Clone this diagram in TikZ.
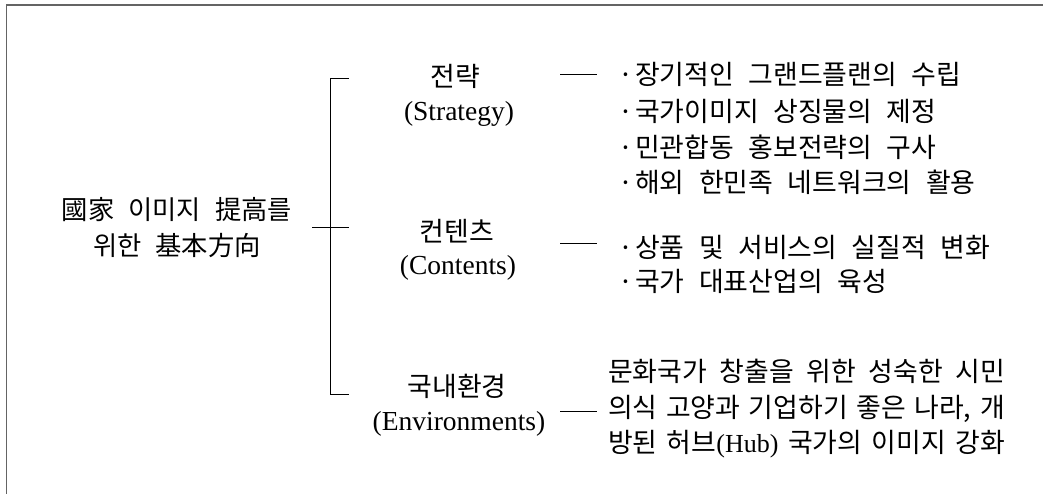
\documentclass[tikz,border=0pt]{standalone}
\usepackage{fontspec}
\setmainfont{Liberation Serif}
\newfontfamily\krfont[WordSpace=2.4]{Noto Sans CJK KR}
\newfontfamily\krfontp[WordSpace=1.2,Scale=0.9999]{Noto Sans CJK KR}
\begin{document}
\begin{tikzpicture}[x=1pt,y=-1pt,
  krtext/.style={font=\krfont\fontsize{26.9}{36}\selectfont, inner sep=0pt, anchor=base},
  titletext/.style={font=\krfont\fontsize{26.3}{36}\selectfont, inner sep=0pt, anchor=base},
  paratext/.style={font=\krfontp\fontsize{26.9}{36}\selectfont, inner sep=0pt, anchor=base},
  lattext/.style={font=\fontsize{27.5}{36}\selectfont, inner sep=0pt, anchor=base},
  bullet/.style={krtext, anchor=base west},
  link/.style={draw=black, line width=0.9pt},
  frame/.style={draw={rgb,255:red,100;green,100;blue,100}, line width=1.6pt}]
\useasboundingbox (0,0) rectangle (1043,494);
\coordinate (fb) at (6.5,494);
\coordinate (fc) at (6.5,5);
\coordinate (fr) at (1043,5);
\draw[frame] (fb) -- (fc) -- (fr);

% title
\node[titletext] (t1) at (177,219.5) {國家 이미지 提高를};
\node[titletext] (t2) at (177,255.5) {위한 基本方向};

% bracket
\coordinate (btop) at (349,78);
\coordinate (bbot) at (349,394);
\coordinate (bmidL) at (312,227);
\coordinate (bmidR) at (349,227);
\draw[link] (btop) -- ++(-19,0) |- (bbot);
\draw[link] (bmidL) -- (bmidR);

% headers
\node[krtext] (s1k) at (455,86.5) {전략};
\node[lattext] (s1e) at (459,121) {(Strategy)};
\node[krtext] (s2k) at (457,241.5) {컨텐츠};
\node[lattext] (s2e) at (458,274) {(Contents)};
\node[krtext] (s3k) at (457,396.5) {국내환경};
\node[lattext] (s3e) at (459,430) {(Environments)};

% connectors
\coordinate (c1a) at (560,74); \coordinate (c1b) at (597,74);
\coordinate (c2a) at (560,243); \coordinate (c2b) at (597,243);
\coordinate (c3a) at (560,411); \coordinate (c3b) at (597,411);
\draw[link] (c1a) -- (c1b);
\draw[link] (c2a) -- (c2b);
\draw[link] (c3a) -- (c3b);

% bullets
\node[bullet] (b1) at (616,84.5) {\makebox[19pt][c]{·}장기적인 그랜드플랜의 수립};
\node[bullet] (b2) at (616,121.5) {\makebox[19pt][c]{·}국가이미지 상징물의 제정};
\node[bullet] (b3) at (616,157.5) {\makebox[19pt][c]{·}민관합동 홍보전략의 구사};
\node[bullet] (b4) at (616,192.5) {\makebox[19pt][c]{·}해외 한민족 네트워크의 활용};
\node[bullet] (b5) at (616,257.5) {\makebox[19pt][c]{·}상품 및 서비스의 실질적 변화};
\node[bullet] (b6) at (616,291.5) {\makebox[19pt][c]{·}국가 대표산업의 육성};

% environment paragraph
\node[paratext] (e1) at (806.5,381.5) {\makebox[397pt][s]{문화국가 창출을 위한 성숙한 시민}};
\node[paratext] (e2) at (806.5,417.5) {\makebox[397pt][s]{의식 고양과 기업하기 좋은 나라, 개}};
\node[paratext] (e3) at (806.5,452.5) {\makebox[397pt][s]{방된 허브{\rmfamily\fontsize{26}{36}\selectfont(Hub)} 국가의 이미지 강화}};
\end{tikzpicture}
\end{document}
